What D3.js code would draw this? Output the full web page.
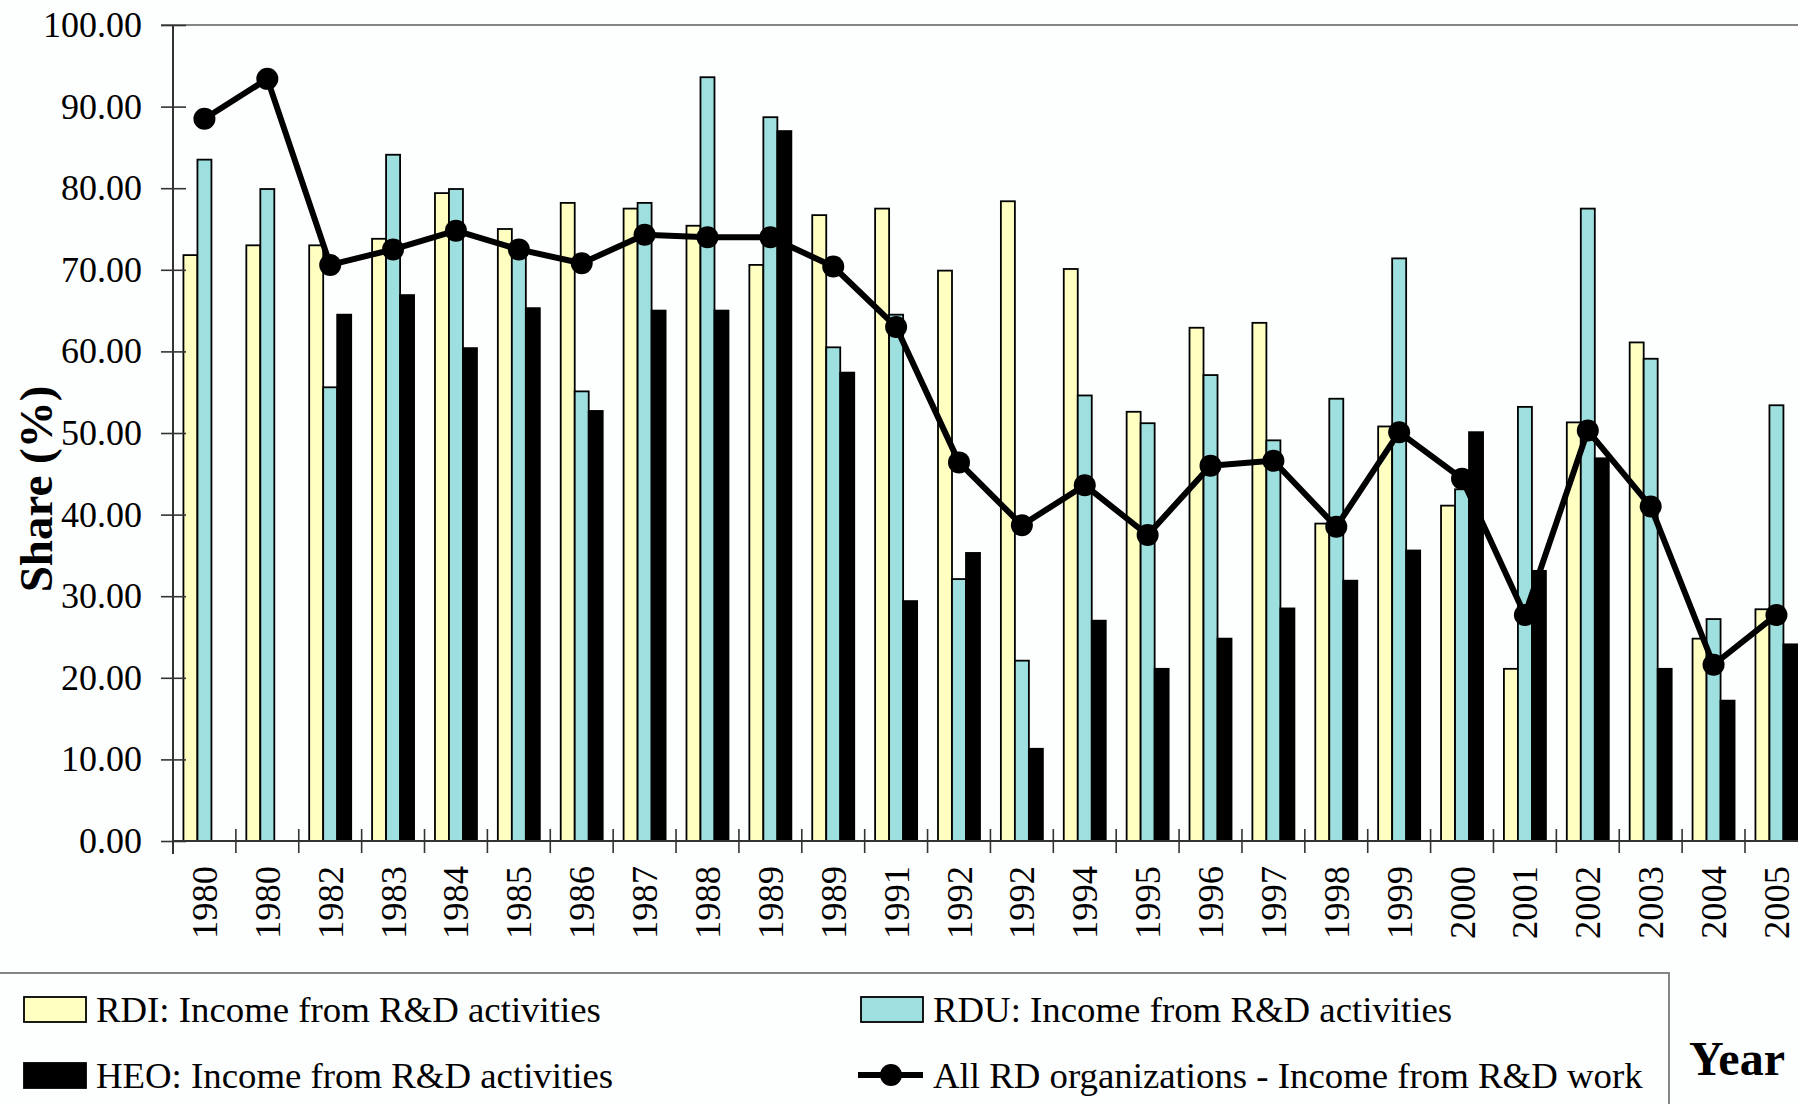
<!DOCTYPE html>
<html>
<head>
<meta charset="utf-8">
<script src="https://cdn.jsdelivr.net/npm/d3@7"></script>
<style>
  html, body { margin: 0; padding: 0; background: #fdfefe; overflow: hidden; }
  svg { display: block; }
  text { font-family: "Liberation Serif", "Times New Roman", serif; fill: #000; }
</style>
</head>
<body>
<svg id="chart" width="1798" height="1104"></svg>
<script>
// Year labels along the category axis (some years repeat in the source table)
const years = ["1980","1980","1982","1983","1984","1985","1986","1987","1988","1989","1989","1991","1992",
               "1992","1994","1995","1996","1997","1998","1999","2000","2001","2002","2003","2004","2005"];

// Share of income from R&D, percent
const rdi = [71.8, 73.0, 73.0, 73.8, 79.4, 75.0, 78.2, 77.5, 75.4, 70.6, 76.7, 77.5, 69.9,
             78.4, 70.1, 52.6, 62.9, 63.5, 38.9, 50.8, 41.1, 21.1, 51.3, 61.1, 24.8, 28.4];
const rdu = [83.5, 79.9, 55.6, 84.1, 79.9, 72.0, 55.1, 78.2, 93.6, 88.7, 60.5, 64.5, 32.1,
             22.1, 54.6, 51.2, 57.1, 49.1, 54.2, 71.4, 43.1, 53.2, 77.5, 59.1, 27.2, 53.4];
const heo = [null, null, 64.5, 66.9, 60.4, 65.3, 52.7, 65.0, 65.0, 87.0, 57.4, 29.4, 35.3,
             11.3, 27.0, 21.1, 24.8, 28.5, 31.9, 35.6, 50.1, 33.1, 46.9, 21.1, 17.2, 24.1];
const allRd = [88.5, 93.4, 70.6, 72.5, 74.8, 72.5, 70.8, 74.3, 74.0, 74.0, 70.4, 63.0, 46.4,
               38.7, 43.6, 37.5, 46.0, 46.6, 38.5, 50.1, 44.4, 27.7, 50.3, 41.0, 21.6, 27.7];

const yTicks = [0, 10, 20, 30, 40, 50, 60, 70, 80, 90, 100];

const seriesNames = ["RDI", "RDU", "HEO"];
const seriesFill = { RDI: "#ffffc2", RDU: "#9ee0e0", HEO: "#000000" };
const legendItems = [
  { label: "RDI: Income from R&D activities", kind: "RDI" },
  { label: "RDU: Income from R&D activities", kind: "RDU" },
  { label: "HEO: Income from R&D activities", kind: "HEO" },
  { label: "All RD organizations - Income from R&D work", kind: "line" }
];

const svg = d3.select("#chart");
const W = 1798;
const plotLeft = 173, plotTop = 25, plotBottom = 841;
const step = 62.88;
const plotRight = plotLeft + step * years.length;   // the last group runs past the frame edge

const idx = d3.range(years.length);
const pad = 1 - 42 / step;
const x = d3.scaleBand().domain(idx).range([plotLeft, plotRight])
  .paddingInner(pad).paddingOuter(pad / 2);
const xs = d3.scaleBand().domain(seriesNames).range([0, x.bandwidth()]);
const xEdge = d3.scaleLinear().domain([0, years.length]).range([plotLeft, plotRight]);
const y = d3.scaleLinear().domain([0, 100]).range([plotBottom, plotTop]);

const plot = svg.append("g");

// top frame line
plot.append("line")
  .attr("x1", 161).attr("x2", W).attr("y1", y(100)).attr("y2", y(100))
  .attr("stroke", "#858585").attr("stroke-width", 2);

// bars
const rows = idx.map(i => ({ i, RDI: rdi[i], RDU: rdu[i], HEO: heo[i] }));
const groups = plot.selectAll("g.grp").data(rows).enter().append("g")
  .attr("class", "grp")
  .attr("transform", d => `translate(${x(d.i)},0)`);
groups.selectAll("rect")
  .data(d => seriesNames.filter(k => d[k] != null).map(k => ({ k, v: d[k] })))
  .enter().append("rect")
  .attr("x", d => xs(d.k))
  .attr("width", xs.bandwidth())
  .attr("y", d => y(d.v))
  .attr("height", d => y(0) - y(d.v))
  .attr("fill", d => seriesFill[d.k])
  .attr("stroke", "#000")
  .attr("stroke-width", 1.8);

// y axis: labels with outward ticks, plus inward half of each tick
const yAxis = plot.append("g").attr("transform", `translate(${plotLeft},0)`)
  .call(d3.axisLeft(y).tickValues(yTicks).tickFormat(d3.format(".2f")).tickSize(12).tickPadding(19));
plot.append("g").attr("transform", `translate(${plotLeft},0)`)
  .call(d3.axisLeft(y).tickValues(yTicks).tickFormat("").tickSize(-13));
plot.selectAll(".domain").remove();
plot.selectAll(".tick line").attr("stroke", "#333").attr("stroke-width", 1.6);
yAxis.selectAll("text").style("font-size", "36px").attr("fill", "#000");
plot.append("line").attr("x1", plotLeft).attr("x2", plotLeft).attr("y1", y(100)).attr("y2", y(0) + 13)
  .attr("stroke", "#333").attr("stroke-width", 2);

// x axis line and category boundary ticks
plot.append("line").attr("x1", plotLeft).attr("x2", W).attr("y1", y(0)).attr("y2", y(0))
  .attr("stroke", "#333").attr("stroke-width", 2);
const edges = d3.range(years.length + 1);
plot.append("g").selectAll("line").data(edges).enter().append("line")
  .attr("x1", d => xEdge(d)).attr("x2", d => xEdge(d))
  .attr("y1", y(0) - 12).attr("y2", y(0) + 12)
  .attr("stroke", "#333").attr("stroke-width", 1.6);

// year labels, rotated
const xAxis = plot.append("g").attr("transform", `translate(0,${y(0)})`)
  .call(d3.axisBottom(x).tickSize(0).tickFormat(i => years[i]));
xAxis.select(".domain").remove();
xAxis.selectAll("text")
  .style("font-size", "36.5px")
  .attr("fill", "#000")
  .attr("text-anchor", "end")
  .attr("dy", null)
  .attr("y", null)
  .attr("dominant-baseline", "central")
  .attr("transform", "translate(0,25) rotate(-90)");

// all-organisations line with markers
const line = d3.line().x((d, i) => x(i) + x.bandwidth() / 2).y(d => y(d));
plot.append("path").datum(allRd).attr("d", line)
  .attr("fill", "none").attr("stroke", "#000").attr("stroke-width", 6).attr("stroke-linejoin", "round");
plot.append("g").selectAll("circle").data(allRd).enter().append("circle")
  .attr("cx", (d, i) => x(i) + x.bandwidth() / 2).attr("cy", d => y(d)).attr("r", 11).attr("fill", "#000");

// axis titles
svg.append("text")
  .attr("transform", "translate(52,489) rotate(-90)")
  .attr("text-anchor", "middle")
  .style("font-size", "47px").style("font-weight", "bold")
  .text("Share (%)");
svg.append("text")
  .attr("x", 1689).attr("y", 1075)
  .style("font-size", "48px").style("font-weight", "bold")
  .text("Year");

// legend box
svg.append("rect").attr("x", -3).attr("y", 973).attr("width", 1672).attr("height", 160)
  .attr("fill", "none").attr("stroke", "#858585").attr("stroke-width", 2);

const legendPos = [
  { sx: 24, ty: 1022 }, { sx: 861, ty: 1022 },
  { sx: 24, ty: 1088 }, { sx: 861, ty: 1088 }
];
const lg = svg.append("g").selectAll("g").data(legendItems).enter().append("g")
  .attr("transform", (d, i) => `translate(${legendPos[i].sx},${legendPos[i].ty})`);
lg.filter(d => d.kind !== "line").append("rect")
  .attr("x", 0).attr("y", -25).attr("width", 62).attr("height", 25)
  .attr("fill", d => seriesFill[d.kind]).attr("stroke", "#000").attr("stroke-width", 1.8);
const sym = lg.filter(d => d.kind === "line");
sym.append("line").attr("x1", -3).attr("x2", 62).attr("y1", -13).attr("y2", -13)
  .attr("stroke", "#000").attr("stroke-width", 6);
sym.append("circle").attr("cx", 30).attr("cy", -13).attr("r", 11).attr("fill", "#000");
lg.append("text").attr("x", 72).attr("y", 0)
  .style("font-size", "36.8px")
  .text(d => d.label);
</script>
</body>
</html>
